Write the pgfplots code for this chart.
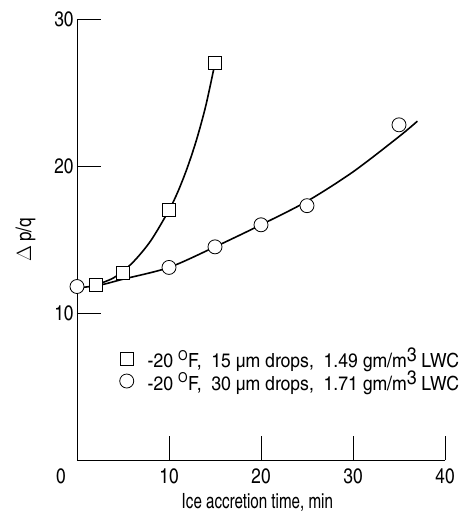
\documentclass[border=0pt]{standalone}
\usepackage{fontspec}
\setmainfont{TeX Gyre Heros Cn}
\usepackage{pgfplots}
\pgfplotsset{compat=1.18}

\begin{document}
\begin{tikzpicture}
\begin{axis}[
  name=ax,
  scale only axis,
  width=368bp, height=441bp,
  xmin=0, xmax=40, ymin=0, ymax=30,
  axis lines=left,
  axis line style={-, line width=0.9pt},
  xtick={10,20,30,40}, ytick={10,20,30},
  extra x ticks={0},
  extra x tick style={major tick length=0pt, xticklabel style={xshift=-16bp}},
  tick align=inside,
  major tick length=24bp,
  tick style={line width=0.8pt, black},
  ticklabel style={font=\fontsize{21bp}{24bp}\selectfont},
  xticklabel style={yshift=-5bp},
  /pgf/number format/assume math mode=true,
  xlabel={\scalebox{0.88}[1]{Ice accretion time,\ min}},
  ylabel={$\Delta$\,p/q},
  label style={font=\fontsize{21bp}{24bp}\selectfont},
  x label style={at={(axis description cs:0.49,-0.096)}, anchor=center},
  y label style={at={(axis description cs:-0.14,0.5)}, anchor=center},
  legend style={draw=none, fill=none, at={(axis cs:4.3,7.9)}, anchor=north west,
    font=\fontsize{19.5bp}{21bp}\selectfont, row sep=-3bp,
    /tikz/every odd column/.append style={column sep=12bp}},
  legend cell align=left,
]
% fitted curves
\addplot[black, line width=1.6pt, smooth, forget plot] coordinates {
  (2,11.9) (4,12.4) (6,13.4) (8,14.9) (10,17.0) (11,18.3) (12,19.9)
  (13,21.8) (14,24.1) (15,27.0)
};
\addplot[black, line width=1.6pt, smooth, forget plot] coordinates {
  (0,11.7) (2.5,11.9) (5,12.3) (10,13.1) (15,14.5) (20,16.0) (25,17.6)
  (30,19.6) (35,22.0) (37,23.05)
};
% data points
\addplot[only marks, mark=square*, mark size=6.5bp,
  mark options={fill=white, draw=black, line width=0.8pt}] coordinates {
  (2,11.9) (5,12.7) (10,17.0) (15,27.0)
};
\addlegendentry{\scalebox{1.1}[1]{-20 \textsuperscript{O}F,\ \ 15 µm drops,\ \ 1.49 gm/m\raisebox{0.6ex}{3} LWC}}
\addplot[only marks, mark=*, mark size=7bp,
  mark options={fill=white, draw=black, line width=0.8pt}] coordinates {
  (0,11.8) (10,13.1) (15,14.5) (20,16.0) (25,17.3) (35,22.8)
};
\addlegendentry{\scalebox{1.1}[1]{-20 \textsuperscript{O}F,\ \ 30 µm drops,\ \ 1.71 gm/m\raisebox{0.6ex}{3} LWC}}
\end{axis}
\path (ax.south west) ++(-77bp,-56bp) rectangle ++(468bp,516bp);
\end{tikzpicture}
\end{document}
